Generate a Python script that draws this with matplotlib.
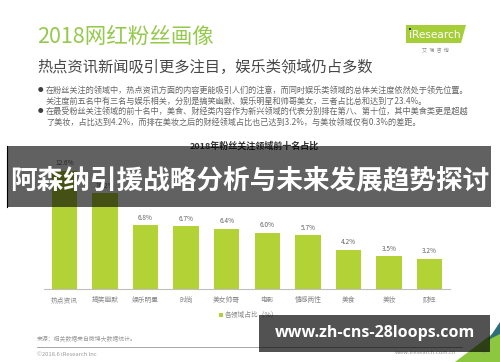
import matplotlib
matplotlib.use('Agg')
import matplotlib.pyplot as plt
from matplotlib.patches import Rectangle, Polygon
from matplotlib.lines import Line2D

plt.rcParams['font.family'] = ['Noto Sans CJK SC', 'DejaVu Sans']

# 数据
categories = ['热点资讯', '搞笑幽默', '娱乐明星', '时尚', '美女帅哥',
              '电影', '情感两性', '美食', '美妆', '财经']
shares = [12.6, 10.2, 6.8, 6.7, 6.4, 6.0, 5.7, 4.2, 3.5, 3.2]
value_labels = ['12.6%', '10.2%', '6.8%', '6.7%', '6.4%',
                '6.0%', '5.7%', '4.2%', '3.5%', '3.2%']

bullet_lines = [
    '在粉丝关注的领域中，热点资讯方面的内容更能吸引人们的注意，而同时娱乐类领域的总体关注度依然处于领先位置。',
    '关注度前五名中有三名与娱乐相关，分别是搞笑幽默、娱乐明星和帅哥美女，三者占比总和达到了23.4%。',
    '在最受粉丝关注领域的前十名中，美食、财经类内容作为新兴领域的代表分别排在第八、第十位，其中美食类更是超越',
    '了美妆，占比达到4.2%，而排在美妆之后的财经领域占比也已达到3.2%，与美妆领域仅有0.3%的差距。',
]

W, H = 500, 362
GREEN = '#B3D235'


def fx(px):
    return px / W


def fy(py):
    return 1 - py / H


fig = plt.figure(figsize=(5, 3.62), dpi=100)
fig.patch.set_facecolor('white')

# 标题
fig.text(fx(37), fy(37), '2018网红粉丝画像', fontsize=15.5, color='#95C94C',
         va='center', ha='left')
fig.text(fx(37), fy(67), '热点资讯新闻吸引更多注目，娱乐类领域仍占多数', fontsize=11,
         color='#474747', va='center', ha='left')

# 说明文字
line_y = [90, 101, 111.5, 122.5]
for i, (t, y) in enumerate(zip(bullet_lines, line_y)):
    fig.text(fx(46), fy(y), t, fontsize=5.9, color='#666666', va='center', ha='left')
    if i in (0, 2):
        fig.text(fx(40), fy(y), '●', fontsize=4, color='#404040', va='center', ha='center')

# 图表标题
fig.text(fx(254), fy(146), '2018年粉丝关注领域前十名占比', fontsize=6.5, color='#333333',
         fontweight='bold', va='center', ha='center')

# 柱状图
ax = fig.add_axes([fx(44), fy(289), fx(406), 139 / H])
x = list(range(len(categories)))
bars = ax.bar(x, shares, width=0.63, color=GREEN)
ax.bar_label(bars, labels=value_labels, padding=2.5, fontsize=4.7, color='#666666')
ax.set_xlim(-0.5, 9.5)
ax.set_ylim(0, 139 / 9.4)
ax.set_xticks(x)
ax.set_xticklabels(categories, fontsize=4.9, color='#888888')
ax.tick_params(axis='x', length=0, pad=5)
ax.set_yticks([])
for s in ('left', 'right', 'top'):
    ax.spines[s].set_visible(False)
ax.spines['bottom'].set_color('#bfbfbf')
ax.spines['bottom'].set_linewidth(0.8)
ax.patch.set_alpha(0)

# 图例
fig.patches.append(Rectangle((fx(219), fy(317)), fx(4), 4 / H, transform=fig.transFigure,
                             facecolor=GREEN, edgecolor='none'))
fig.text(fx(225), fy(315), '各领域占比（%）', fontsize=4.9, color='#888888',
         va='center', ha='left')

# 页脚
fig.text(fx(37), fy(339), '来源：相关数据来自微博大数据统计。', fontsize=4.2, color='#999999',
         va='center', ha='left')
fig.lines.append(Line2D([fx(37), fx(462)], [fy(347), fy(347)], transform=fig.transFigure,
                        color='#a6a6a6', linewidth=0.7))
fig.text(fx(37), fy(354), '©2018.6 iResearch Inc', fontsize=4.2, color='#999999',
         va='center', ha='left')
fig.text(fx(456), fy(353), 'www.iresearch.com.cn', fontsize=4.2, color='#999999',
         va='center', ha='right')
fig.patches.append(Polygon([(fx(455), fy(362)), (fx(500), fy(328)), (fx(500), fy(362))],
                           closed=True, transform=fig.transFigure, facecolor='#8DC63F',
                           edgecolor='none'))
fig.patches.append(Polygon([(fx(488), fy(340)), (fx(500), fy(322)), (fx(500), fy(334))],
                           closed=True, transform=fig.transFigure, facecolor='#2f6f7a',
                           edgecolor='none'))
fig.text(fx(484), fy(352), '17', fontsize=4.5, color='#999999', va='center', ha='center')

# iResearch 标志
fig.patches.append(Polygon([(fx(406), fy(25)), (fx(466), fy(25)), (fx(461), fy(43)),
                            (fx(406), fy(43))], closed=True, transform=fig.transFigure,
                           facecolor='#A6CE39', edgecolor='none'))
fig.text(fx(409), fy(34.5), 'i', fontsize=8, color='white', va='center', ha='left',
         family='DejaVu Sans')
fig.patches.append(Rectangle((fx(409.3), fy(30)), fx(2), 2.2 / H, transform=fig.transFigure,
                             facecolor='#1f3b73', edgecolor='none'))
fig.text(fx(412), fy(34.5), 'Research', fontsize=7.6, color='white', va='center', ha='left',
         family='DejaVu Sans')
fig.text(fx(435), fy(51), '艾  瑞  咨  询', fontsize=3.6, color='#8c8c8c',
         va='center', ha='center')

# 横幅遮罩
fig.patches.append(Rectangle((fx(7), fy(207)), fx(484), 61 / H, transform=fig.transFigure,
                             facecolor='black', alpha=0.62, edgecolor='none', zorder=5))
fig.lines.append(Line2D([fx(7), fx(7)], [fy(146), fy(207)], transform=fig.transFigure,
                        color='black', linewidth=0.8, zorder=6))
fig.text(fx(250), fy(181), '阿森纳引援战略分析与未来发展趋势探讨', fontsize=19.2,
         fontweight='bold', color='white', va='center', ha='center', zorder=7)

# 网址水印
fig.patches.append(Rectangle((fx(259), fy(352)), fx(231), 37 / H, transform=fig.transFigure,
                             facecolor='black', alpha=0.68, edgecolor='none', zorder=5))
fig.text(fx(374.5), fy(333), 'www.zh-cns-28loops.com', fontsize=11.5, fontweight='bold',
         color='white', va='center', ha='center', zorder=7, family='Open Sans')

fig.savefig('out.png', dpi=100)
